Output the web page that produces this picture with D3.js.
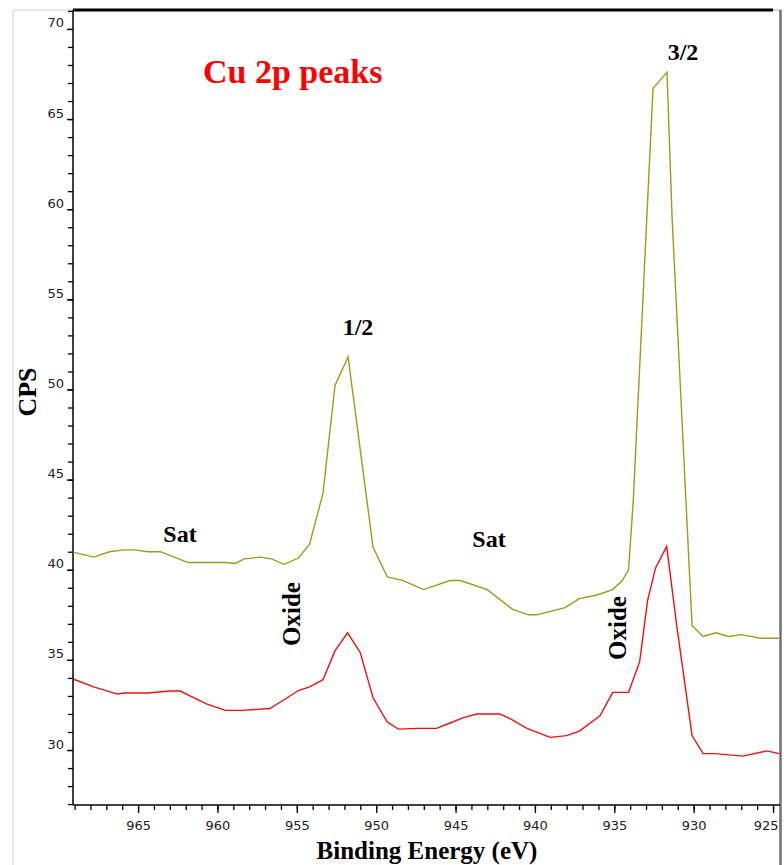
<!DOCTYPE html>
<html>
<head>
<meta charset="utf-8">
<script src="https://cdn.jsdelivr.net/npm/d3@7"></script>
<style>
  body { margin: 0; background: #fff; }
  svg { display: block; }
</style>
</head>
<body>
<div id="chart"></div>
<script>
const WIDTH = 784;
const HEIGHT = 865;
const PLOT = { left: 73, right: 780, top: 10, bottom: 805 };
const OLIVE = '#9c9c1e';
const RED = '#f01010';
const SERIF = '"Liberation Serif", "Times New Roman", serif';
const SANS = '"DejaVu Sans", Tahoma, sans-serif';

// upper (olive) spectrum, binding energy in eV and counts
const OLIVE_EV = [969.1, 967.8, 966.8, 965.9, 965.2, 964.4, 963.6, 963.0, 961.85, 960.9,
  959.5, 958.9, 958.3, 957.3, 956.6, 955.8, 954.9, 954.2, 953.35, 952.59,
  951.77, 950.2, 949.3, 948.3, 947.0, 945.35, 944.7, 943.0, 941.4, 940.4,
  939.9, 938.1, 937.2, 936.1, 935.1, 934.5, 934.1, 933.8, 932.56, 931.68,
  931.36, 930.1, 929.4, 928.6, 927.8, 927.0, 925.8, 924.6];
const OLIVE_CPS = [40.98, 40.7, 41.0, 41.1, 41.1, 41.0, 41.0, 40.8, 40.4, 40.4,
  40.4, 40.35, 40.6, 40.7, 40.6, 40.3, 40.65, 41.4, 44.25, 50.24,
  51.8, 41.26, 39.6, 39.4, 38.9, 39.4, 39.4, 38.9, 37.8, 37.5,
  37.5, 37.9, 38.4, 38.6, 38.9, 39.4, 40.0, 43.9, 66.7, 67.6,
  59.56, 36.9, 36.3, 36.5, 36.3, 36.4, 36.2, 36.2];

// lower (red) spectrum
const RED_EV = [969.1, 967.8, 966.3, 965.9, 964.4, 963.0, 962.35, 961.5, 960.65, 959.5,
  958.45, 956.7, 955.6, 954.9, 954.2, 953.35, 952.6, 951.8, 951.0, 950.2,
  949.3, 948.6, 947.4, 946.2, 945.35, 944.5, 943.65, 942.2, 941.4, 940.5,
  939.05, 938.0, 937.2, 935.9, 935.1, 934.1, 933.4, 932.9, 932.4, 931.7,
  931.05, 930.1, 929.4, 928.65, 926.9, 925.4, 924.6];
const RED_CPS = [33.94, 33.5, 33.1, 33.16, 33.16, 33.27, 33.27, 32.9, 32.55, 32.2,
  32.2, 32.3, 32.9, 33.3, 33.5, 33.9, 35.5, 36.5, 35.4, 32.9,
  31.55, 31.16, 31.2, 31.2, 31.5, 31.8, 32.0, 32.0, 31.66, 31.2,
  30.7, 30.8, 31.05, 31.9, 33.2, 33.2, 34.9, 38.3, 40.1, 41.3,
  36.8, 30.8, 29.8, 29.8, 29.66, 29.95, 29.8];

const X_MAJOR_TICKS = [965, 960, 955, 950, 945, 940, 935, 930, 925];
const Y_MAJOR_TICKS = [30, 35, 40, 45, 50, 55, 60, 65, 70];

const svg = d3.select('#chart')
  .append('svg')
    .attr('width', WIDTH)
    .attr('height', HEIGHT);

// binding energy runs right to left
const x = d3.scaleLinear()
  .domain([969.1, 924.56])
  .range([PLOT.left, PLOT.right]);
const y = d3.scaleLinear()
  .domain([26.95, 71.05])
  .range([PLOT.bottom, PLOT.top]);

// outer frame bits
svg.append('line')
  .attr('x1', 13).attr('x2', 13).attr('y1', PLOT.top).attr('y2', HEIGHT)
  .attr('stroke', '#d0d0d0');
svg.append('line')
  .attr('x1', 13).attr('x2', PLOT.left).attr('y1', PLOT.top).attr('y2', PLOT.top)
  .attr('stroke', '#d0d0d0');
svg.append('line')
  .attr('x1', PLOT.left).attr('x2', 773).attr('y1', PLOT.top).attr('y2', PLOT.top)
  .attr('stroke', '#000').attr('stroke-width', 3);
svg.append('line')
  .attr('x1', 773).attr('x2', 782).attr('y1', PLOT.top).attr('y2', PLOT.top)
  .attr('stroke', '#aaa').attr('stroke-width', 1);
svg.append('line')
  .attr('x1', 780.5).attr('x2', 780.5).attr('y1', PLOT.top).attr('y2', HEIGHT)
  .attr('stroke', '#707070').attr('stroke-width', 2.5);

// minor ticks every 1 unit
const xMinor = d3.range(925, 970, 1);
const yMinor = d3.range(27, 72, 1);

svg.append('g')
  .attr('transform', `translate(0, ${PLOT.bottom})`)
  .call(d3.axisBottom(x).tickValues(xMinor).tickSize(5).tickFormat(''))
  .call(g => g.select('.domain').remove());
svg.append('g')
  .attr('transform', `translate(${PLOT.left}, 0)`)
  .call(d3.axisLeft(y).tickValues(yMinor).tickSize(5).tickFormat(''))
  .call(g => g.select('.domain').remove());

const xGuide = svg.append('g')
  .attr('transform', `translate(0, ${PLOT.bottom})`)
  .call(d3.axisBottom(x).tickValues(X_MAJOR_TICKS).tickSize(8).tickSizeOuter(0));
xGuide.selectAll('text')
  .attr('y', 25).attr('dy', 0)
  .attr('font-family', SANS).attr('font-size', 13).attr('fill', '#222');
// last label sits against the right border, keep it inside the picture
xGuide.selectAll('.tick')
  .filter(d => d === 925)
  .select('text')
    .attr('text-anchor', 'end')
    .attr('x', 5);

const yGuide = svg.append('g')
  .attr('transform', `translate(${PLOT.left}, 0)`)
  .call(d3.axisLeft(y).tickValues(Y_MAJOR_TICKS).tickSize(6).tickSizeOuter(0));
yGuide.selectAll('text')
  .attr('x', -9).attr('y', -2).attr('dy', 0)
  .attr('font-family', SANS).attr('font-size', 13).attr('fill', '#222');

svg.selectAll('.tick line').attr('stroke', '#000').attr('stroke-width', 1.3);
// axis lines
svg.append('line')
  .attr('x1', PLOT.left).attr('x2', PLOT.left).attr('y1', PLOT.top).attr('y2', PLOT.bottom)
  .attr('stroke', '#000').attr('stroke-width', 1.5);
svg.append('line')
  .attr('x1', PLOT.left).attr('x2', PLOT.right).attr('y1', PLOT.bottom).attr('y2', PLOT.bottom)
  .attr('stroke', '#000').attr('stroke-width', 1.5);
xGuide.select('.domain').remove();
yGuide.select('.domain').remove();

// spectra
const line = d3.line()
  .x(d => x(d[0]))
  .y(d => y(d[1]));

svg.append('path')
  .datum(d3.zip(OLIVE_EV, OLIVE_CPS))
  .attr('d', line)
  .attr('fill', 'none')
  .attr('stroke', OLIVE)
  .attr('stroke-width', 1.4);
svg.append('path')
  .datum(d3.zip(RED_EV, RED_CPS))
  .attr('d', line)
  .attr('fill', 'none')
  .attr('stroke', RED)
  .attr('stroke-width', 1.4);

// annotations
const label = (text, px, py, size, opts = {}) => {
  const t = svg.append('text')
    .attr('font-family', SERIF)
    .attr('font-weight', 'bold')
    .attr('font-size', size)
    .attr('fill', opts.fill || '#000')
    .attr('text-anchor', opts.anchor || 'middle')
    .text(text);
  if (opts.rotate) {
    t.attr('transform', `translate(${px}, ${py}) rotate(-90)`);
  } else {
    t.attr('x', px).attr('y', py);
  }
  return t;
};

label('Cu 2p peaks', 203, 83, 34, { fill: '#ff0000', anchor: 'start' });
label('1/2', 358, 335, 24);
label('3/2', 683, 60, 24);
label('Sat', 180, 542, 24);
label('Sat', 489, 547, 24);
label('Oxide', 300, 614, 25, { rotate: true });
label('Oxide', 626, 628, 25, { rotate: true });
label('CPS', 36, 392, 26, { rotate: true });
label('Binding Energy (eV)', 427, 859, 25);
</script>
</body>
</html>
